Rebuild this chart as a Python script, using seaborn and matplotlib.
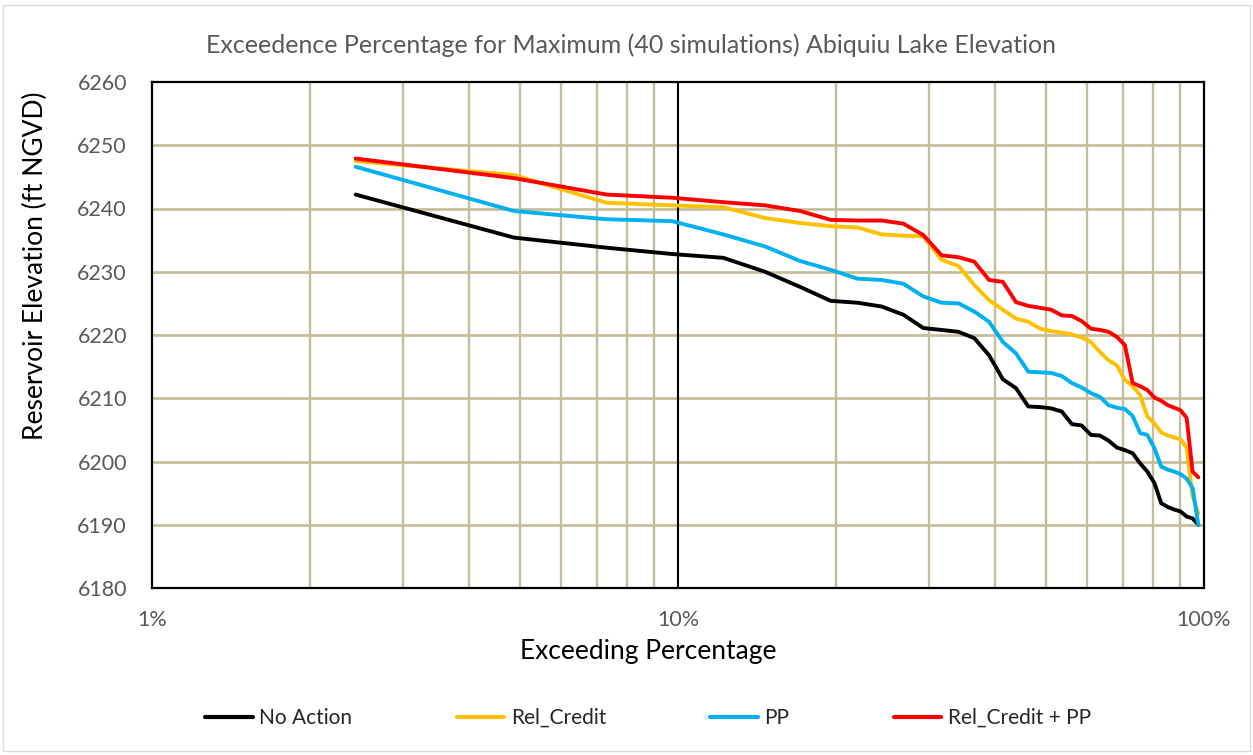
import numpy as np
import pandas as pd
import matplotlib
matplotlib.use("Agg")
import matplotlib.pyplot as plt
import seaborn as sns
from matplotlib.patches import Rectangle
from matplotlib.ticker import FixedLocator, NullFormatter

# ---- data: 40 simulations, Weibull plotting position i/(n+1) ----
n_sim = 40
rank = list(range(1, n_sim + 1))

no_action = [6242.2, 6235.4, 6233.8, 6232.8, 6232.2, 6230.0, 6227.6, 6225.4, 6225.1, 6224.5,
             6223.2, 6221.1, 6220.8, 6220.5, 6219.5, 6216.8, 6213.0, 6211.6, 6208.7, 6208.6,
             6208.4, 6207.9, 6205.9, 6205.7, 6204.2, 6204.1, 6203.3, 6202.2, 6201.8, 6201.3,
             6199.7, 6198.4, 6196.6, 6193.4, 6192.8, 6192.4, 6192.1, 6191.3, 6191.0, 6190.0]
rel_credit = [6247.5, 6245.3, 6240.9, 6240.5, 6240.2, 6238.5, 6237.7, 6237.2, 6237.0, 6235.9,
              6235.7, 6235.6, 6231.9, 6230.9, 6227.9, 6225.5, 6224.0, 6222.6, 6222.1, 6221.0,
              6220.6, 6220.4, 6220.1, 6219.6, 6218.9, 6217.3, 6216.0, 6215.2, 6212.9, 6211.9,
              6210.5, 6207.1, 6206.0, 6204.6, 6204.1, 6203.8, 6203.5, 6202.2, 6194.5, 6191.8]
pp = [6246.6, 6239.6, 6238.3, 6238.0, 6235.9, 6234.0, 6231.7, 6230.3, 6228.9, 6228.7,
      6228.1, 6226.1, 6225.1, 6225.0, 6223.7, 6222.1, 6218.9, 6217.1, 6214.2, 6214.1,
      6214.0, 6213.5, 6212.4, 6211.7, 6210.8, 6210.2, 6208.9, 6208.5, 6208.3, 6207.2,
      6204.5, 6204.2, 6202.1, 6199.2, 6198.7, 6198.4, 6198.0, 6197.3, 6195.8, 6190.0]
rel_credit_pp = [6247.9, 6244.8, 6242.2, 6241.7, 6241.0, 6240.5, 6239.6, 6238.2, 6238.1, 6238.1,
                 6237.6, 6235.8, 6232.6, 6232.3, 6231.6, 6228.7, 6228.4, 6225.2, 6224.6, 6224.3,
                 6224.0, 6223.1, 6223.0, 6222.2, 6221.0, 6220.8, 6220.5, 6219.7, 6218.4, 6212.4,
                 6211.9, 6211.3, 6210.1, 6209.6, 6208.9, 6208.5, 6208.1, 6206.9, 6198.4, 6197.5]

series_names = ["No Action", "Rel_Credit", "PP", "Rel_Credit + PP"]
series_colors = ["#000000", "#FFC000", "#00B0F0", "#FF0000"]
x_ticks = [1, 10, 100]
x_tick_labels = ["1%", "10%", "100%"]
y_ticks = list(range(6180, 6261, 10))

exceed_pct = [100.0 * i / (n_sim + 1) for i in rank]

frames = []
for name, vals in zip(series_names, [no_action, rel_credit, pp, rel_credit_pp]):
    frames.append(pd.DataFrame({"Exceeding": exceed_pct, "Elevation": vals, "Scenario": name}))
df = pd.concat(frames, ignore_index=True)

# ---- figure ----
sns.set_theme(style="white")
plt.rcParams["font.family"] = ["Lato", "DejaVu Sans"]

W, H = 1253, 755
fig = plt.figure(figsize=(W / 100, H / 100), dpi=100)
fig.patch.set_facecolor("white")
fig.patches.append(Rectangle((3 / W, 4 / H), 1 - 6 / W, 1 - 9 / H, transform=fig.transFigure,
                             fill=False, edgecolor="#D9D9D9", linewidth=1.0))

L, R, T, B = 152, 1204, 82, 588
ax = fig.add_axes([L / W, 1 - B / H, (R - L) / W, (B - T) / H])

sns.lineplot(data=df, x="Exceeding", y="Elevation", hue="Scenario",
             hue_order=series_names, palette=series_colors, linewidth=2.8,
             legend=False, ax=ax, zorder=5)

ax.set_xscale("log")
ax.set_xlim(1, 100)
ax.set_ylim(6180, 6260)

grid_c = "#C4BD97"
minor = [m * d for d in (1, 10) for m in range(2, 10)]
ax.xaxis.set_major_locator(FixedLocator(x_ticks))
ax.xaxis.set_minor_locator(FixedLocator(minor))
ax.xaxis.set_minor_formatter(NullFormatter())
ax.set_xticklabels(x_tick_labels)
ax.set_yticks(y_ticks)
for v in minor:
    ax.axvline(v, color=grid_c, linewidth=1.7, zorder=1)
for v in y_ticks[1:-1]:
    ax.axhline(v, color=grid_c, linewidth=1.9, zorder=1)
ax.axvline(10, color="black", linewidth=1.5, zorder=2)

for s in ax.spines.values():
    s.set_visible(True)
    s.set_color("black")
    s.set_linewidth(1.6)

ax.tick_params(axis="both", which="both", length=0, labelsize=15.5, labelcolor="#595959")
ax.tick_params(axis="x", pad=16)
ax.tick_params(axis="y", pad=18)

ax.set_xlabel("Exceeding Percentage", fontsize=19, color="black")
ax.xaxis.set_label_coords((648 - L) / (R - L), (B - 652) / (B - T))
ax.xaxis.label.set_va("center")
ax.set_ylabel("Reservoir Elevation (ft NGVD)", fontsize=19, color="black")
ax.yaxis.set_label_coords((35 - L) / (R - L), (B - 266) / (B - T))
ax.yaxis.label.set_va("center")

fig.text(631 / W, 1 - 45 / H, "Exceedence Percentage for Maximum (40 simulations) Abiquiu Lake Elevation",
         ha="center", va="center", fontsize=18, color="#595959", fontweight="normal")

handles = [plt.Line2D([], [], color=c, linewidth=3) for c in series_colors]
fig.legend(handles, series_names, loc="center", bbox_to_anchor=(648 / W, 1 - 718 / H),
           ncol=4, frameon=False, fontsize=15, handlelength=2.3, handletextpad=0.3,
           columnspacing=5.0)

fig.savefig("out.png", dpi=100, facecolor="white")
